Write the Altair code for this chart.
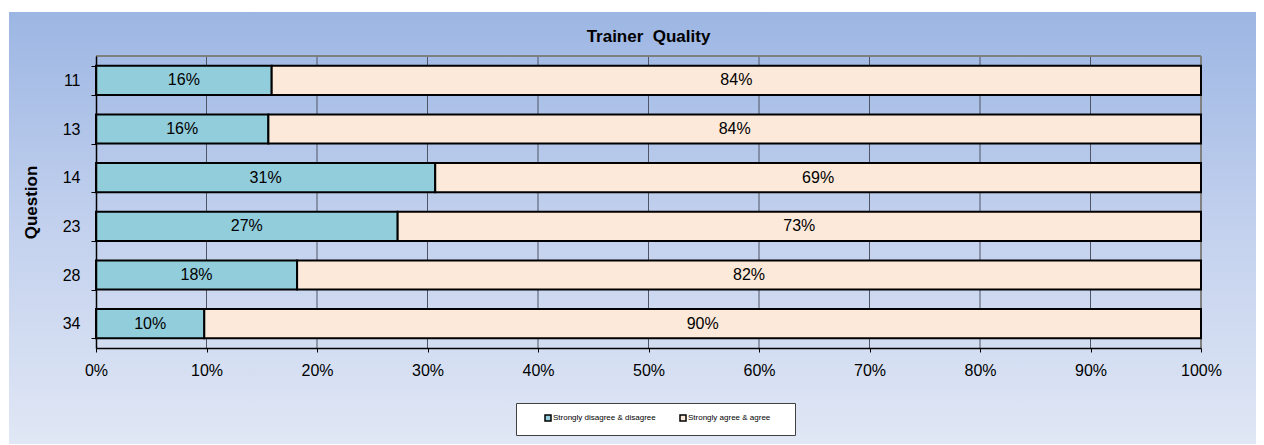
import altair as alt
import pandas as pd

questions = ["11", "13", "14", "23", "28", "34"]
disagree = [15.9, 15.6, 30.7, 27.3, 18.2, 9.8]
agree = [84.1, 84.4, 69.3, 72.7, 81.8, 90.2]
categories = ["Strongly disagree & disagree", "Strongly agree & agree"]
colors = ["#92cddc", "#fde9d9"]
x_ticks = [0, 10, 20, 30, 40, 50, 60, 70, 80, 90, 100]
grid_values = [10, 20, 30, 40, 50, 60, 70, 80, 90]

rows = []
for q, d, a in zip(questions, disagree, agree):
    rows.append({"question": q, "category": categories[0], "value": d, "order": 0})
    rows.append({"question": q, "category": categories[1], "value": a, "order": 1})
df = pd.DataFrame(rows)

FONT = "Liberation Sans"
W, H = 1105, 292
PAD = {"left": 88, "top": 48, "right": 55, "bottom": 96}

x_axis = alt.Axis(
    title=None, values=x_ticks, labelExpr="datum.value + '%'",
    labelFont=FONT, labelFontSize=16, labelColor="black", labelPadding=10,
    labelFlush=False,
    tickSize=4, tickColor="black", tickWidth=1,
    domainColor="black", domainWidth=1.5, grid=False, zindex=2,
)
y_axis = alt.Axis(
    title="Question", titleFont=FONT, titleFontSize=17, titleFontWeight="bold",
    titleColor="black", titlePadding=22,
    labelFont=FONT, labelFontSize=16, labelColor="black", labelPadding=11,
    tickBand="extent", tickSize=5, tickColor="black", tickWidth=1,
    domainColor="black", domainWidth=1.5, grid=False, zindex=2,
)
x_scale = alt.Scale(domain=[0, 100], nice=False)
y_scale = alt.Scale(paddingInner=0.4, paddingOuter=0.2)

bg = alt.Chart(pd.DataFrame({"a": [0]})).mark_rect(
    fill=alt.Gradient(
        gradient="linear", x1=0, x2=0, y1=0, y2=1,
        stops=[alt.GradientStop(color="#9cb6e3", offset=0),
               alt.GradientStop(color="#c3d1ee", offset=0.5),
               alt.GradientStop(color="#e0e7f5", offset=1)]),
    stroke=None,
).encode(
    x=alt.value(-PAD["left"] + 1), x2=alt.value(W + PAD["right"]),
    y=alt.value(-PAD["top"] + 4), y2=alt.value(H + PAD["bottom"]),
)

grid = alt.Chart(pd.DataFrame({"value": grid_values})).mark_rule(
    color="#4f5566", strokeWidth=1
).encode(x=alt.X("value:Q", scale=x_scale, axis=x_axis))

border_top = alt.Chart(pd.DataFrame({"a": [0]})).mark_rule(
    color="#808080", strokeWidth=2
).encode(y=alt.value(0))

border_right = alt.Chart(pd.DataFrame({"value": [100]})).mark_rule(
    color="#808080", strokeWidth=2
).encode(x=alt.X("value:Q", scale=x_scale, axis=x_axis))

bars = alt.Chart(df).mark_bar(stroke="black", strokeWidth=2).encode(
    x=alt.X("value:Q", stack="zero", scale=x_scale, axis=x_axis),
    y=alt.Y("question:N", sort=questions, scale=y_scale, axis=y_axis),
    color=alt.Color(
        "category:N",
        scale=alt.Scale(domain=categories, range=colors),
        legend=alt.Legend(
            title=" ", titleOrient="right", titlePadding=14, titleFontSize=8,
            orient="none", legendX=420, legendY=347, direction="horizontal",
            columns=2, columnPadding=6,
            fillColor="white", strokeColor="#404040", padding=11,
            symbolOffset=17, symbolType="square", symbolSize=36,
            symbolStrokeColor="black", symbolStrokeWidth=1.5, symbolOpacity=1,
            labelFont=FONT, labelFontSize=8, labelColor="black", labelOffset=1,
            zindex=2,
        ),
    ),
    order=alt.Order("order:Q"),
)

labels = alt.Chart(df).transform_stack(
    stack="value", groupby=["question"], as_=["x0", "x1"],
    sort=[alt.SortField("order")],
).transform_calculate(
    mid="(datum.x0 + datum.x1) / 2",
    label="round(datum.value) + '%'",
).mark_text(font=FONT, fontSize=16, color="black", baseline="middle").encode(
    x=alt.X("mid:Q", scale=x_scale, axis=x_axis),
    y=alt.Y("question:N", sort=questions, scale=y_scale, axis=y_axis),
    text="label:N",
)

chart = alt.layer(bg, grid, border_top, border_right, bars, labels).properties(
    width=W, height=H,
    padding=PAD,
    autosize=alt.AutoSizeParams(type="none"),
    title=alt.TitleParams(
        "Trainer \u00a0Quality", font=FONT, fontSize=17, fontWeight="bold",
        color="black", anchor="middle", offset=0, dy=34, zindex=2,
    ),
).configure_view(stroke=None).configure(background="white").configure_legend(
    strokeWidth=1
)

chart.save("out.html", embed_options={"renderer": "svg", "actions": False})
